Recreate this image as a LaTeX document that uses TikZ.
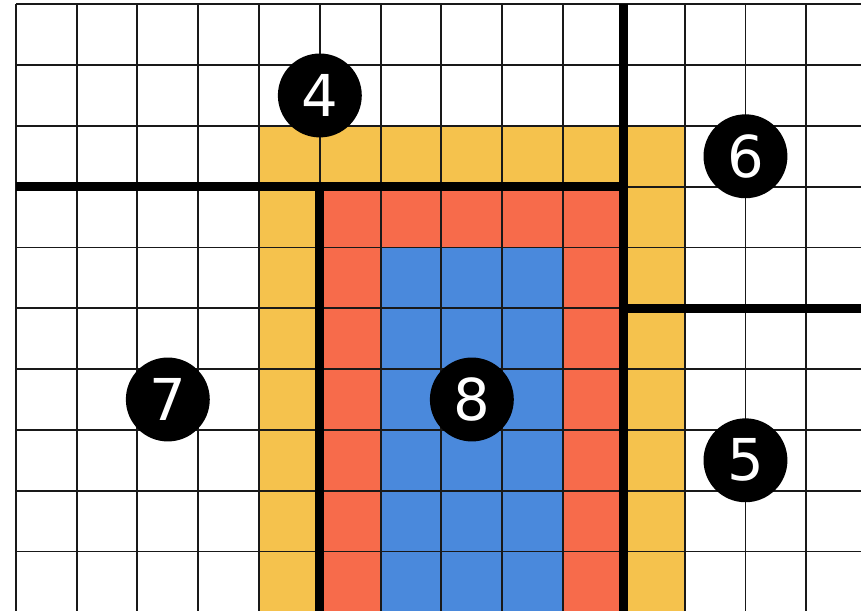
\documentclass[tikz,border=0pt]{standalone}
\usepackage{fontspec}
\setmainfont{DejaVu Sans}
\usepackage{xcolor}
\usepackage{tikz}
\usetikzlibrary{positioning, calc}

\definecolor{ringyellow}{HTML}{F5C24D}
\definecolor{ringred}{HTML}{F76B4B}
\definecolor{coreblue}{HTML}{4A89DC}

\begin{document}
\begin{tikzpicture}[
			x=1cm, y=1cm,
			gridline/.style={line width=0.9pt, black!90},
			wall/.style={line width=4.3pt, black},
			badge/.style={circle, fill=black, text=white, minimum size=1.38cm, inner sep=0pt, font=\fontsize{27}{27}\selectfont}
			]
			\useasboundingbox (-0.26,0.07) rectangle (13.9,-9.97);
			\clip (-0.26,0.07) rectangle (13.9,-9.97);
			
			% Coloured blocks
			\fill[ringyellow] (4,-2) rectangle (11,-10);
			\fill[ringred] (5,-3) rectangle (10,-10);
			\fill[coreblue] (6,-4) rectangle (9,-10);
			
			% Grid
			\draw[gridline] (0,-10) grid (14,0);
			
			% Walls
			\draw[wall] (0,-3) -- (10,-3);
			\draw[wall] (5,-3) -- (5,-10);
			\draw[wall] (10,0) -- (10,-10);
			\draw[wall] (10,-5) -- (14,-5);
			
			% Nodes
			\node (n4) [badge] at (5,-1.5) {4};
			\node (n6) [badge] at (12,-2.5) {6};
			\node (n7) [badge] at (2.5,-6.5) {7};
			\node (n8) [badge] at (7.5,-6.5) {8};
			\node (n5) [badge] at (12,-7.5) {5};
		\end{tikzpicture}
\end{document}
